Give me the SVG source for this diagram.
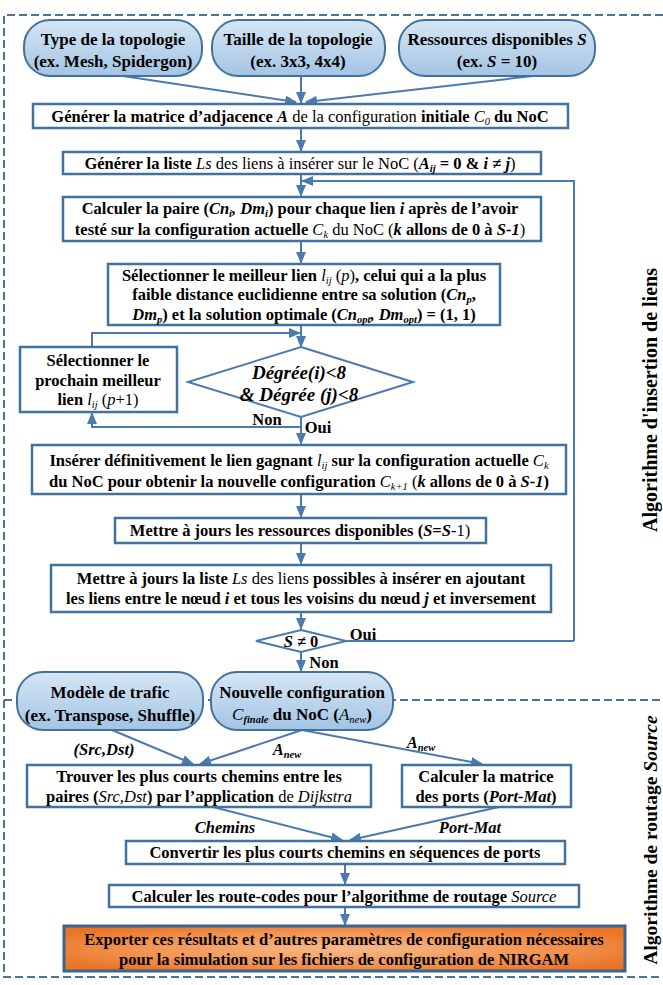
<svg xmlns="http://www.w3.org/2000/svg" width="663" height="985" viewBox="0 0 663 985">
<style>
.t{font-family:"Liberation Serif","Times New Roman",serif;font-size:16.5px;font-weight:bold;fill:#000;text-anchor:middle}
.p{font-size:17px}
.r{font-weight:normal}
.i{font-style:italic}
.s{font-size:10.5px}
.box{fill:#fff;stroke:#41719c;stroke-width:2.5}
.pill{fill:url(#pg);stroke:#41719c;stroke-width:2}
.c{fill:none;stroke:#4a7ab0;stroke-width:2}
.a{marker-end:url(#ah)}
.frame{fill:none;stroke:#4a72a0;stroke-width:2;stroke-dasharray:8 4}
.dia{fill:#fff;stroke:#4a7ab0;stroke-width:2}
.side{font-family:"Liberation Serif","Times New Roman",serif;font-size:20px;font-weight:bold;fill:#000;text-anchor:middle}
</style>
<defs>
<linearGradient id="pg" x1="0" y1="0" x2="0" y2="1">
<stop offset="0" stop-color="#d6e6f5"/>
<stop offset="1" stop-color="#a3c4e4"/>
</linearGradient>
<radialGradient id="og" cx="0.5" cy="0.5" r="0.6">
<stop offset="0" stop-color="#f8b988"/>
<stop offset="0.6" stop-color="#f29553"/>
<stop offset="1" stop-color="#ea7424"/>
</radialGradient>
<marker id="ah" markerUnits="userSpaceOnUse" markerWidth="12" markerHeight="10" refX="11" refY="5" orient="auto">
<path d="M0,0 L12,5 L0,10 Z" fill="#4a7ab0"/>
</marker>
</defs>

<g id="frames">
<path class="frame" d="M663,15 H4 V977 H663"/>
<path class="frame" d="M4,700 H663"/>
</g>

<g id="connectors">
<path class="c a" d="M123,76 L296,102"/>
<path class="c a" d="M301,76 L301,103"/>
<path class="c a" d="M533,76 L306,102"/>
<path class="c a" d="M301,128 L301,151"/>
<path class="c a" d="M301,174 L301,196"/>
<path class="c a" d="M574,641 L574,181 L302,181"/>
<path class="c a" d="M301,241 L301,263"/>
<path class="c a" d="M301,325 L301,347"/>
<path class="c a" d="M92,346 L92,333 L300,333"/>
<path class="c a" d="M301,417 L301,444"/>
<path class="c a" d="M301,427 L92,427 L92,413"/>
<path class="c a" d="M301,494 L301,517"/>
<path class="c a" d="M301,543 L301,564"/>
<path class="c a" d="M301,612 L301,629"/>
<path class="c" d="M346,641 L574,641"/>
<path class="c a" d="M301,652 L301,671"/>
<path class="c a" d="M112,730 L193,764"/>
<path class="c a" d="M302,730 L200,764"/>
<path class="c a" d="M302,730 L482,764"/>
<path class="c a" d="M213,807 L342,840"/>
<path class="c a" d="M499,807 L350,840"/>
<path class="c a" d="M345,864 L345,884"/>
<path class="c a" d="M345,907 L345,925"/>
<text class="t" x="267" y="425">Non</text>
<text class="t" x="318" y="433">Oui</text>
<text class="t" x="363" y="640">Oui</text>
<text class="t" x="324" y="668">Non</text>
<text class="t i" x="104" y="755">(Src,Dst)</text>
<text class="t i" x="287" y="755">A<tspan class="s" dy="3">new</tspan></text>
<text class="t i" x="421" y="748">A<tspan class="s" dy="3">new</tspan></text>
<text class="t i" x="225" y="833">Chemins</text>
<text class="t i" x="470" y="833">Port-Mat</text>
</g>

<g id="n-type">
<rect class="pill" x="24" y="20" width="178" height="56" rx="26"/>
<text class="t p" x="113" y="45">Type de la topologie</text>
<text class="t p" x="113" y="67">(ex. Mesh, Spidergon)</text>
</g>
<g id="n-taille">
<rect class="pill" x="212" y="20" width="173" height="56" rx="26"/>
<text class="t p" x="298" y="45">Taille de la topologie</text>
<text class="t p" x="298" y="67">(ex. 3x3, 4x4)</text>
</g>
<g id="n-ressources">
<rect class="pill" x="399" y="20" width="196" height="56" rx="26"/>
<text class="t p" x="497" y="45">Ressources disponibles <tspan class="i">S</tspan></text>
<text class="t p" x="497" y="67">(ex. <tspan class="i">S</tspan> = 10)</text>
</g>

<g id="n-matrice">
<rect class="box" x="33" y="104" width="535" height="24"/>
<text class="t" x="300" y="122">Générer la matrice d’adjacence <tspan class="i">A</tspan><tspan class="r"> de la configuration </tspan>initiale <tspan class="i r">C</tspan><tspan class="i r s" dy="3">0</tspan><tspan dy="-3"> du NoC</tspan></text>
</g>

<g id="n-liste">
<rect class="box" x="63" y="152" width="478" height="22"/>
<text class="t" x="300" y="169">Générer la liste <tspan class="i r">Ls</tspan><tspan class="r"> des liens à insérer sur le NoC (</tspan><tspan class="i">A</tspan><tspan class="i s" dy="3">ij</tspan><tspan dy="-3"> = 0 &amp; </tspan><tspan class="i">i</tspan> ≠ <tspan class="i">j</tspan><tspan class="r">)</tspan></text>
</g>

<g id="n-paire">
<rect class="box" x="63" y="197" width="478" height="44"/>
<text class="t" x="300" y="214">Calculer la paire (<tspan class="i">Cn</tspan><tspan class="i s" dy="3">i</tspan><tspan class="i" dy="-3">, Dm</tspan><tspan class="i s" dy="3">i</tspan><tspan dy="-3">) pour chaque lien </tspan><tspan class="i">i</tspan> après de l’avoir</text>
<text class="t" x="300" y="235">testé sur la configuration actuelle <tspan class="i r">C</tspan><tspan class="i r s" dy="3">k</tspan><tspan class="r" dy="-3"> du NoC (</tspan><tspan class="i">k</tspan> allons de 0 à <tspan class="i">S-1</tspan><tspan class="r">)</tspan></text>
</g>

<g id="n-meilleur">
<rect class="box" x="108" y="264" width="392" height="61"/>
<text class="t" x="304" y="281">Sélectionner le meilleur lien <tspan class="i r">l</tspan><tspan class="i r s" dy="3">ij</tspan><tspan class="r" dy="-3"> (</tspan><tspan class="i r">p</tspan><tspan class="r">)</tspan>, celui qui a la plus</text>
<text class="t" x="304" y="300">faible distance euclidienne entre sa solution (<tspan class="i">Cn</tspan><tspan class="i s" dy="3">p</tspan><tspan dy="-3">,</tspan></text>
<text class="t" x="304" y="320"><tspan class="i">Dm</tspan><tspan class="i s" dy="3">p</tspan><tspan dy="-3">) et la solution optimale (</tspan><tspan class="i">Cn</tspan><tspan class="i s" dy="3">opt</tspan><tspan class="i" dy="-3">, Dm</tspan><tspan class="i s" dy="3">opt</tspan><tspan dy="-3">) = (1, 1)</tspan></text>
</g>

<g id="n-degre">
<polygon class="dia" points="301,347 413,382 301,417 188,382"/>
<text class="t i" x="299" y="379" style="font-size:19px">Dégrée(i)&lt;8</text>
<text class="t i" x="299" y="401" style="font-size:19px">&amp; Dégrée (j)&lt;8</text>
</g>

<g id="n-prochain">
<rect class="box" x="20" y="347" width="157" height="65"/>
<text class="t" x="98" y="366">Sélectionner le</text>
<text class="t" x="98" y="386">prochain meilleur</text>
<text class="t" x="98" y="405">lien <tspan class="i r">l</tspan><tspan class="i r s" dy="3">ij</tspan><tspan class="r" dy="-3"> (</tspan><tspan class="i r">p</tspan><tspan class="r">+1)</tspan></text>
</g>

<g id="n-inserer">
<rect class="box" x="32" y="445" width="534" height="49"/>
<text class="t" x="299" y="466">Insérer définitivement le lien gagnant <tspan class="i r">l</tspan><tspan class="i r s" dy="3">ij</tspan><tspan dy="-3"> sur la configuration actuelle </tspan><tspan class="i r">C</tspan><tspan class="i r s" dy="3">k</tspan></text>
<text class="t" x="299" y="487">du NoC pour obtenir la nouvelle configuration <tspan class="i r">C</tspan><tspan class="i r s" dy="3">k+1</tspan><tspan class="r" dy="-3"> (</tspan><tspan class="i">k</tspan> allons de 0 à <tspan class="i">S-1</tspan>)</text>
</g>

<g id="n-maj-ressources">
<rect class="box" x="115" y="518" width="371" height="25"/>
<text class="t" x="300" y="536">Mettre à jours les ressources disponibles (<tspan class="i">S</tspan>=<tspan class="i">S</tspan><tspan class="r">-1)</tspan></text>
</g>

<g id="n-maj-liste">
<rect class="box" x="51" y="565" width="500" height="47"/>
<text class="t" x="301" y="584">Mettre à jours la liste <tspan class="i r">Ls</tspan><tspan class="r"> des liens </tspan>possibles à insérer en ajoutant</text>
<text class="t" x="301" y="604">les liens entre le nœud <tspan class="i">i</tspan> et tous les voisins du nœud <tspan class="i">j</tspan> et inversement</text>
</g>

<g id="n-s0">
<polygon class="dia" points="301,630 346,641 301,652 256,641"/>
<text class="t" x="301" y="647"><tspan class="i">S</tspan> ≠ 0</text>
</g>

<g id="n-trafic">
<rect class="pill" x="17" y="672" width="186" height="58" rx="26"/>
<text class="t p" x="110" y="698">Modèle de trafic</text>
<text class="t p" x="110" y="721">(ex. Transpose, Shuffle)</text>
</g>
<g id="n-nouvelle">
<rect class="pill" x="211" y="672" width="182" height="58" rx="26"/>
<text class="t p" x="302" y="698">Nouvelle configuration</text>
<text class="t p" x="302" y="720"><tspan class="i r">C</tspan><tspan class="i s" dy="3">finale</tspan><tspan dy="-3"> du NoC (</tspan><tspan class="i r">A</tspan><tspan class="i r s" dy="3">new</tspan><tspan dy="-3">)</tspan></text>
</g>

<g id="n-dijkstra">
<rect class="box" x="27" y="765" width="344" height="42"/>
<text class="t" x="199" y="782">Trouver les plus courts chemins entre les</text>
<text class="t" x="199" y="802">paires (<tspan class="i r">Src,Dst</tspan>) par l’application <tspan class="r">de </tspan><tspan class="i r">Dijkstra</tspan></text>
</g>
<g id="n-portmat">
<rect class="box" x="402" y="765" width="169" height="42"/>
<text class="t" x="486" y="782">Calculer la matrice</text>
<text class="t" x="486" y="802">des ports (<tspan class="i">Port-Mat</tspan>)</text>
</g>

<g id="n-convertir">
<rect class="box" x="126" y="841" width="439" height="23"/>
<text class="t" x="345" y="858">Convertir les plus courts chemins en séquences de ports</text>
</g>
<g id="n-routecodes">
<rect class="box" x="109" y="885" width="470" height="22"/>
<text class="t" x="344" y="902">Calculer les route-codes pour l’algorithme de routage <tspan class="i r">Source</tspan></text>
</g>
<g id="n-exporter">
<rect x="64" y="926" width="561" height="45" fill="url(#og)" stroke="#3b6591" stroke-width="3"/>
<text class="t" x="344" y="945">Exporter ces résultats et d’autres paramètres de configuration nécessaires</text>
<text class="t" x="344" y="965">pour la simulation sur les fichiers de configuration de NIRGAM</text>
</g>

<g id="labels">
<text class="side" transform="translate(657,400) rotate(-90)">Algorithme d'insertion de liens</text>
<text class="side" style="font-size:19.5px" transform="translate(657,840) rotate(-90)">Algorithme de routage <tspan class="i">Source</tspan></text>
</g>
</svg>
